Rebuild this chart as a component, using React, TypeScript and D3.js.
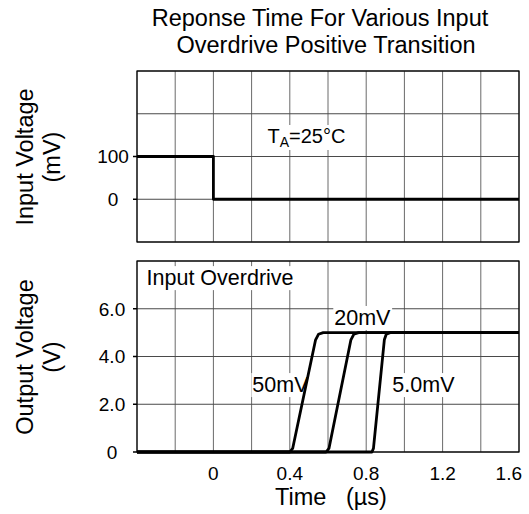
import React, { useEffect, useRef } from 'react';
import * as d3 from 'd3';

// ---- axes / grid ----
const timeGrid = [-0.4, -0.2, 0, 0.2, 0.4, 0.6, 0.8, 1.0, 1.2, 1.4, 1.6];
const timeTicks = [0, 0.4, 0.8, 1.2, 1.6];
const timeTickLabels = ['0', '0.4', '0.8', '1.2', '1.6'];

const inputGrid = [-100, 0, 100, 200, 300];
const inputTicks = [0, 100];
const inputTickLabels = ['0', '100'];

const outputGrid = [0, 2, 4, 6, 8];
const outputTicks = [0, 2, 4, 6];
const outputTickLabels = ['0', '2.0', '4.0', '6.0'];

// ---- series ----
const inputT = [-0.4, 0, 0, 1.6];
const inputV = [100, 100, 0, 0];

const t50 = [-0.4, 0.4, 0.415, 0.535, 0.55, 0.575, 1.6];
const v50 = [0, 0, 0.15, 4.7, 4.93, 5.0, 5.0];
const t20 = [-0.4, 0.59, 0.605, 0.72, 0.735, 0.76, 1.6];
const v20 = [0, 0, 0.15, 4.7, 4.93, 5.0, 5.0];
const t5 = [-0.4, 0.83, 0.838, 0.895, 0.905, 0.925, 1.6];
const v5 = [0, 0, 0.15, 4.7, 4.93, 5.0, 5.0];

// ---- annotations (data coordinates) ----
const outLabels = ['Input Overdrive', '20mV', '50mV', '5.0mV'];
const outLabelT = [-0.35, 0.633, 0.204, 0.937];
const outLabelV = [6.99, 5.32, 2.51, 2.51];

const FONT = "'Liberation Sans', Arial, Helvetica, sans-serif";

export default function App() {
  const ref = useRef<SVGSVGElement | null>(null);

  useEffect(() => {
    const svg = d3.select(ref.current);
    svg.selectAll('*').remove();

    const L = 137, R = 519;
    const topY0 = 71, topY1 = 242;
    const botY0 = 261, botY1 = 452;

    const x = d3.scaleLinear().domain([-0.4, 1.6]).range([L, R]);
    const yIn = d3.scaleLinear().domain([-100, 300]).range([topY1, topY0]);
    const yOut = d3.scaleLinear().domain([0, 8]).range([botY1, botY0]);

    const g = svg.append('g').attr('font-family', FONT);

    // title
    const title = g.append('text').attr('text-anchor', 'middle').attr('font-size', 23.5).attr('fill', '#000');
    title.append('tspan').attr('x', 320).attr('y', 26).text('Reponse Time For Various Input');
    title.append('tspan').attr('x', 326).attr('y', 53).text('Overdrive Positive Transition');

    const drawPanel = (y: d3.ScaleLinear<number, number>, yGrid: number[], yTicks: number[], yLabels: string[], labelX: number, anchor: string) => {
      const p = g.append('g');
      p.append('rect').attr('x', L).attr('y', y.range()[1]).attr('width', R - L)
        .attr('height', y.range()[0] - y.range()[1]).attr('fill', '#fff');
      p.selectAll('line.v').data(timeGrid).join('line').attr('class', 'v')
        .attr('x1', d => x(d)).attr('x2', d => x(d))
        .attr('y1', y.range()[1]).attr('y2', y.range()[0])
        .attr('stroke', '#6a6a6a').attr('stroke-width', 1);
      p.selectAll('line.h').data(yGrid).join('line').attr('class', 'h')
        .attr('x1', L).attr('x2', R)
        .attr('y1', d => y(d)).attr('y2', d => y(d))
        .attr('stroke', '#4a4a4a').attr('stroke-width', 1);
      p.append('rect').attr('x', L).attr('y', y.range()[1]).attr('width', R - L)
        .attr('height', y.range()[0] - y.range()[1]).attr('fill', 'none')
        .attr('stroke', '#000').attr('stroke-width', 1.2);
      p.selectAll('line.t').data(yTicks).join('line').attr('class', 't')
        .attr('x1', L - 4).attr('x2', L)
        .attr('y1', d => y(d)).attr('y2', d => y(d))
        .attr('stroke', '#000').attr('stroke-width', 1.5);
      p.selectAll('text.yl').data(yTicks).join('text').attr('class', 'yl')
        .attr('x', labelX).attr('y', d => y(d)).attr('dy', '0.36em')
        .attr('text-anchor', anchor).attr('font-size', 19).attr('fill', '#000')
        .text((d, i) => yLabels[i]);
      return p;
    };

    drawPanel(yIn, inputGrid, inputTicks, inputTickLabels, 113, 'middle');
    const bot = drawPanel(yOut, outputGrid, outputTicks, outputTickLabels, 112, 'middle');

    // x tick labels (last one kept inside the page)
    g.selectAll('text.xl').data(timeTicks).join('text').attr('class', 'xl')
      .attr('x', (d, i) => (i === timeTicks.length - 1 ? 522 : x(d)))
      .attr('y', 480)
      .attr('text-anchor', (d, i) => (i === timeTicks.length - 1 ? 'end' : 'middle'))
      .attr('font-size', 19).attr('fill', '#000')
      .text((d, i) => timeTickLabels[i]);

    // axis titles
    const yTitle = (cx: number, cy: number, l1: string, l2: string) => {
      const t = g.append('text').attr('text-anchor', 'middle').attr('font-size', 23.5).attr('fill', '#000')
        .attr('transform', `translate(${cx},${cy}) rotate(-90)`);
      t.append('tspan').attr('x', 0).attr('y', 0).text(l1);
      t.append('tspan').attr('x', 0).attr('y', 27).text(l2);
    };
    yTitle(33, 157, 'Input Voltage', '(mV)');
    yTitle(33, 357, 'Output Voltage', '(V)');

    g.append('text').attr('x', 331).attr('y', 505).attr('text-anchor', 'middle')
      .attr('font-size', 23.5).attr('fill', '#000').style('white-space', 'pre')
      .text('Time   (µs)');

    // annotations with white background
    const addLabel = (parent: any, px: number, py: number, build: (t: any) => void, size: number) => {
      const grp = parent.append('g');
      const bg = grp.append('rect').attr('fill', '#fff');
      const t = grp.append('text').attr('x', px).attr('y', py).attr('font-size', size).attr('fill', '#000');
      build(t);
      const bb = (t.node() as SVGTextElement).getBBox();
      bg.attr('x', bb.x - 1).attr('y', bb.y).attr('width', bb.width + 2).attr('height', bb.height);
    };

    addLabel(g, x(0.283), yIn(131.6), (t) => {
      t.append('tspan').text('T');
      t.append('tspan').attr('font-size', 14).attr('dy', 4).text('A');
      t.append('tspan').attr('dy', -4).text('=25°C');
    }, 20);

    outLabels.forEach((s, i) => {
      addLabel(bot, x(outLabelT[i]), yOut(outLabelV[i]), (t) => t.text(s), 21.5);
    });

    // series lines
    const line = d3.line<[number, number]>();
    const seriesPath = (ts: number[], vs: number[], y: d3.ScaleLinear<number, number>) => {
      const pts: [number, number][] = ts.map((t, i) => [x(t), y(vs[i])]);
      g.append('path').attr('d', line(pts) as string).attr('fill', 'none')
        .attr('stroke', '#000').attr('stroke-width', 2.8)
        .attr('stroke-linejoin', 'round');
    };
    seriesPath(inputT, inputV, yIn);
    seriesPath(t50, v50, yOut);
    seriesPath(t20, v20, yOut);
    seriesPath(t5, v5, yOut);
  }, []);

  return (
    <svg ref={ref} width={529} height={514}
      style={{ position: 'absolute', left: 0, top: 0, background: '#fff', display: 'block' }} />
  );
}
